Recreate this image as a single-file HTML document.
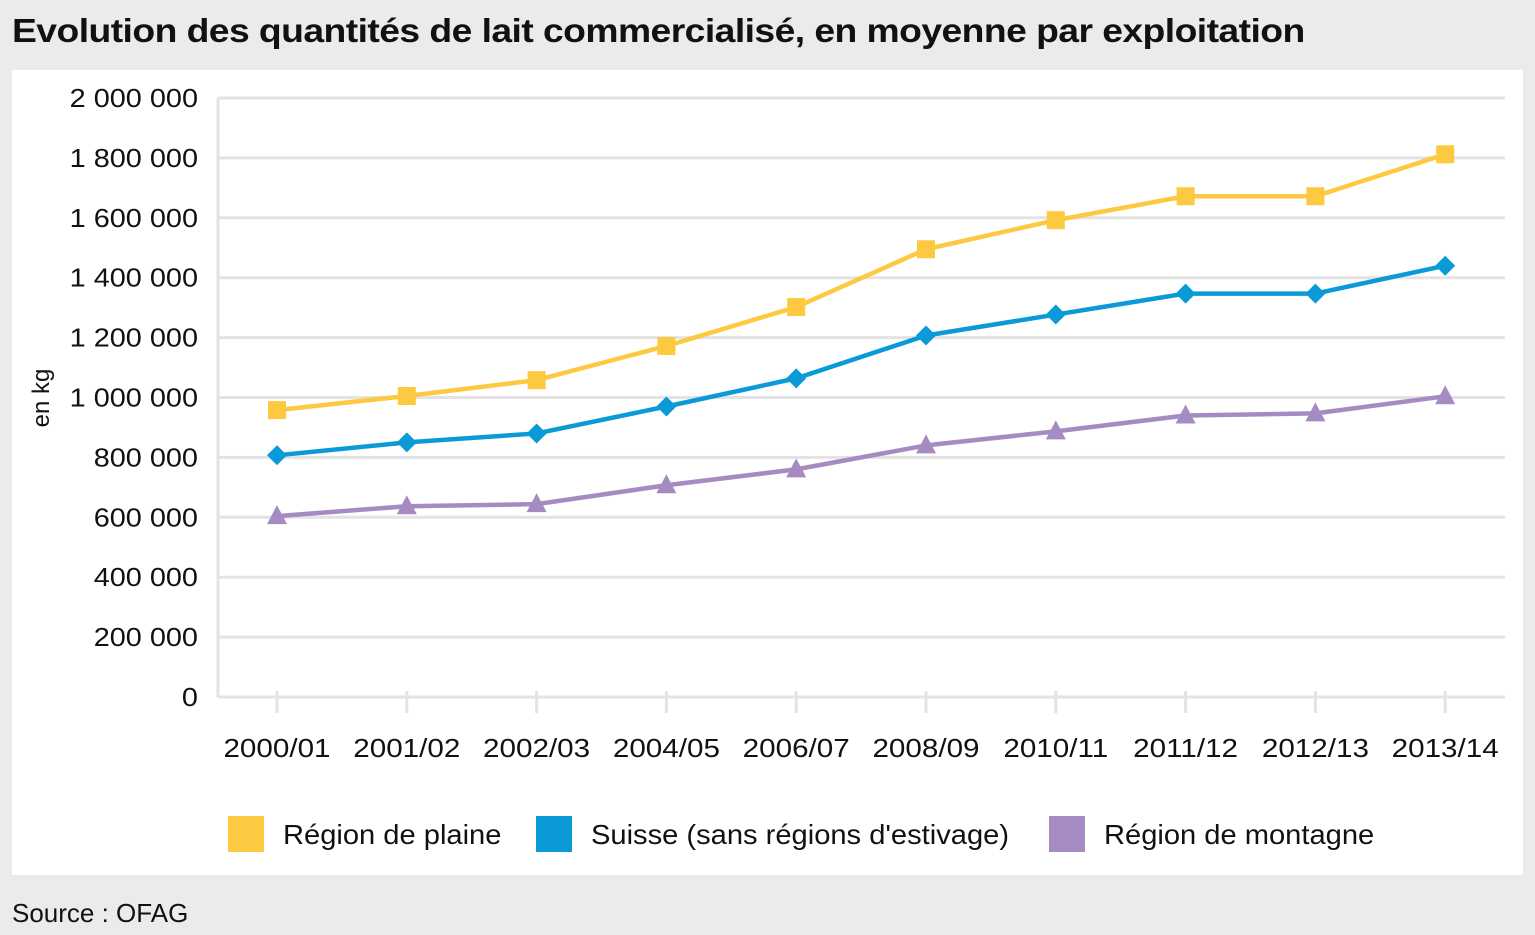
<!DOCTYPE html>
<html><head><meta charset="utf-8">
<style>
html,body{margin:0;padding:0;}
body{width:1535px;height:935px;background:#ebebeb;position:relative;overflow:hidden;font-family:"Liberation Sans",sans-serif;}
#title{position:absolute;left:12px;top:12px;font-size:33px;font-weight:bold;color:#111;letter-spacing:-0.5px;transform:scaleX(1.13);transform-origin:left top;white-space:nowrap;}
#panel{position:absolute;left:12px;top:70px;width:1511px;height:805px;background:#fff;}
#source{position:absolute;left:12px;top:898px;font-size:26px;color:#111;transform:scaleX(1.0);transform-origin:left top;}
svg{position:absolute;left:0;top:0;}
</style></head><body>
<div id="title">Evolution des quantités de lait commercialisé, en moyenne par exploitation</div>
<div id="panel"></div>
<div id="source">Source : OFAG</div>
<svg id="chart" width="1535" height="935"></svg>
<script>
const categories=["2000/01","2001/02","2002/03","2004/05","2006/07","2008/09","2010/11","2011/12","2012/13","2013/14"];
const plaine=[958000,1005000,1058000,1172000,1302000,1495000,1592000,1672000,1672000,1812000];
const suisse=[807000,850000,880000,970000,1064000,1207000,1277000,1347000,1347000,1440000];
const montagne=[604000,637000,644000,707000,760000,840000,887000,940000,947000,1004000];
const yTicks=[0,200000,400000,600000,800000,1000000,1200000,1400000,1600000,1800000,2000000];
const NS="http://www.w3.org/2000/svg";
const svg=document.getElementById('chart');
const y0=697,yTop=98,yMax=2000000;
function y(v){return y0-(v/yMax)*(y0-yTop);}
function x(i){return 277+i*129.8;}
function el(t,a){const e=document.createElementNS(NS,t);for(const k in a)e.setAttribute(k,a[k]);svg.appendChild(e);return e;}
function fmt(v){return v.toString().replace(/\B(?=(\d{3})+(?!\d))/g," ");}
const sy=1.11,sx=1.14,sl=1.04;
yTicks.forEach(v=>{
  const g=el('line',{x1:218,x2:1505,y1:y(v),y2:y(v),stroke:'#e3e3e3','stroke-width':3});
  
  
  const t=el('text',{x:198/sy,y:y(v)+9,'text-anchor':'end','font-size':26,fill:'#111',transform:`scale(${sy},1)`});
  t.textContent=fmt(v);
  
  
});
const yv=el('line',{x1:218,x2:218,y1:98,y2:697,stroke:'#e3e3e3','stroke-width':3});


categories.forEach((c,i)=>{
  const tk=el('line',{x1:x(i),x2:x(i),y1:691,y2:713,stroke:'#e3e3e3','stroke-width':3});
  
  
  const t=el('text',{x:x(i)/sx,y:757,'text-anchor':'middle','font-size':26,fill:'#111',transform:`scale(${sx},1)`});
  t.textContent=c;
  
  
});
const yl=el('text',{x:0,y:0,'text-anchor':'middle','font-size':24,fill:'#111',transform:'translate(49,398) rotate(-90)'});
yl.textContent='en kg';


function series(data,color,marker,name){
  const p=el('polyline',{points:data.map((v,i)=>x(i)+','+y(v)).join(' '),fill:'none',stroke:color,'stroke-width':4.5,'stroke-linejoin':'round'});
  
  
  data.forEach((v,i)=>{
    const cx=x(i),cy=y(v);let m;
    if(marker==='square')m=el('rect',{x:cx-9,y:cy-9,width:18,height:18,fill:color});
    else if(marker==='diamond')m=el('polygon',{points:`${cx},${cy-10} ${cx+10},${cy} ${cx},${cy+10} ${cx-10},${cy}`,fill:color});
    else m=el('polygon',{points:`${cx},${cy-11} ${cx+10},${cy+8} ${cx-10},${cy+8}`,fill:color});
    
    
  });
}
series(plaine,'#fdc940','square','plaine');
series(suisse,'#0a9ad8','diamond','suisse');
series(montagne,'#a68bc3','triangle','montagne');
const legend=[["Région de plaine",'#fdc940',228,283],["Suisse (sans régions d'estivage)",'#0a9ad8',536,591],["Région de montagne",'#a68bc3',1049,1104]];
legend.forEach(l=>{
  const r=el('rect',{x:l[2],y:816,width:36,height:36,fill:l[1]});
  
  
  const t=el('text',{x:l[3]/sl,y:844,'font-size':28,fill:'#111',transform:`scale(${sl},1)`});
  t.textContent=l[0];
  
  
});
</script>
</body></html>
